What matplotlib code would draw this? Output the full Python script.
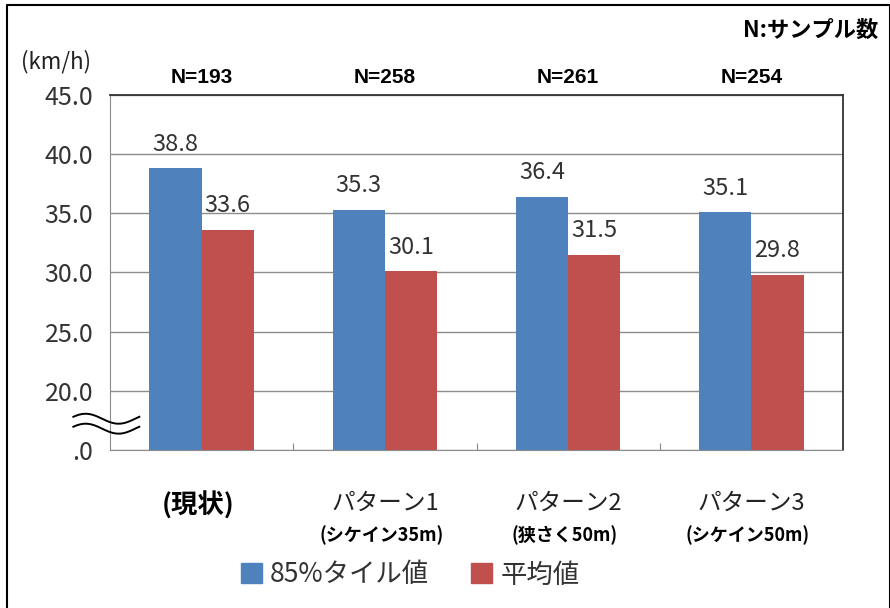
import numpy as np
import matplotlib
matplotlib.use("Agg")
import matplotlib.pyplot as plt
from matplotlib.patches import Patch

plt.rcParams['font.family'] = ['Noto Sans CJK JP', 'DejaVu Sans']

# 走行速度の集計（85%タイル値・平均値）
groups = ["(現状)", "パターン1", "パターン2", "パターン3"]
subs = ["", "(シケイン35m)", "(狭さく50m)", "(シケイン50m)"]
n_samples = [193, 258, 261, 254]
p85 = [38.8, 35.3, 36.4, 35.1]
mean = [33.6, 30.1, 31.5, 29.8]
yticks = [15, 20, 25, 30, 35, 40, 45]
ytick_labels = [".0", "20.0", "25.0", "30.0", "35.0", "40.0", "45.0"]

blue = "#4F81BD"
red = "#C0504D"

fig = plt.figure(figsize=(8.9, 6.08), dpi=100)
ax = fig.add_axes([0.1236, 0.2599, 0.8236, 0.5839])

x = np.arange(len(groups))
w = 0.285
b1 = ax.bar(x - w / 2, p85, w, color=blue, zorder=3)
b2 = ax.bar(x + w / 2, mean, w, color=red, zorder=3)

for bars, vals in ((b1, p85), (b2, mean)):
    for r, v in zip(bars, vals):
        ax.annotate(f"{v:.1f}", (r.get_x() + r.get_width() / 2, v),
                    xytext=(0, 9), textcoords="offset points",
                    ha="center", va="bottom", fontsize=17, color="#333333")

# 縦軸は20未満を省略（15の位置を0とする）
ax.set_ylim(15, 45)
ax.set_xlim(-0.5, 3.5)
ax.set_yticks(yticks)
ax.set_yticklabels(ytick_labels, fontsize=18, color="#333333")
ax.tick_params(axis="y", length=0, pad=12)
ax.set_xticks([0.5, 1.5, 2.5])
ax.set_xticklabels([])
ax.tick_params(axis="x", direction="in", length=5, color="#888888")
ax.yaxis.grid(True, color="#8c8c8c", linewidth=1, zorder=0)
for s in ("left", "bottom"):
    ax.spines[s].set_color("#8c8c8c")
for s in ("top", "right"):
    ax.spines[s].set_color("#333333")
    ax.spines[s].set_linewidth(1.3)

# 省略記号（波線）
t = np.linspace(0, 1, 60)
for yc in (0.088, 0.06):
    xs = -0.05 + 0.09 * t
    ys = yc + 0.014 * np.sin(2 * np.pi * t + 0.4)
    ax.plot(xs, ys, color="black", lw=1.4, transform=ax.transAxes,
            clip_on=False, zorder=5)

for i, n in enumerate(n_samples):
    ax.text(i, 46.45, f"N={n}", ha="center", va="center", fontsize=15,
            fontweight="bold", family=["Liberation Sans", "DejaVu Sans"])

# カテゴリ名
for i, (g, s) in enumerate(zip(groups, subs)):
    if s:
        ax.text(i, 10.5, g, ha="center", va="center", fontsize=17,
                color="#222222")
        ax.text(i - 0.02, 7.8, s, ha="center", va="center", fontsize=13,
                fontweight="bold")
    else:
        ax.text(i - 0.02, 10.3, g, ha="center", va="center", fontsize=19,
                fontweight="bold")

fig.text(56 / 890, 1 - 62 / 608, "(km/h)", ha="center", va="center",
         fontsize=16, color="#222222")
fig.text(878 / 890, 1 - 30 / 608, "N:サンプル数", ha="right", va="center",
         fontsize=16, fontweight="bold")

handles = [Patch(color=blue), Patch(color=red)]
fig.legend(handles, ["85%タイル値", "平均値"], loc="center",
           bbox_to_anchor=(410 / 890, 1 - 575 / 608), ncol=2, frameon=False,
           fontsize=19, handlelength=0.8, handleheight=0.8, handletextpad=0.3,
           columnspacing=1.6, labelcolor="#333333")

# 外枠
fig.add_artist(plt.Line2D([7 / 890, 7 / 890, 1, 1], [0, 1 - 5 / 608, 1 - 5 / 608, 0],
                          color="black", lw=1.5, transform=fig.transFigure))

fig.savefig("out.png", dpi=100)
